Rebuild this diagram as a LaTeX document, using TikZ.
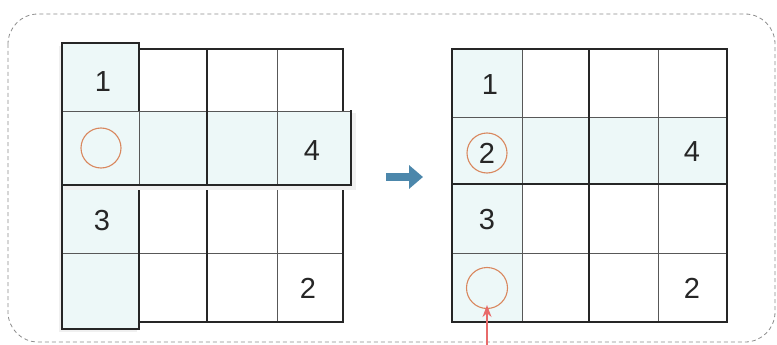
\documentclass[tikz,border=0pt]{standalone}
\usepackage{fontspec}
\setmainfont{Liberation Sans}
\usetikzlibrary{arrows.meta}
\definecolor{cellblue}{HTML}{EDF8F8}
\definecolor{gridgray}{HTML}{262626}
\definecolor{thingray}{HTML}{585858}
\definecolor{ringc}{HTML}{D9875E}
\definecolor{arrowblue}{HTML}{4C87AB}
\definecolor{arrowred}{HTML}{E86A6A}
\definecolor{framec}{HTML}{8C8C8C}
\begin{document}
\begin{tikzpicture}[x=1pt,y=-1pt,
  thickline/.style={draw=gridgray, line width=2.2pt},
  thinline/.style={draw=thingray, line width=1pt},
  num/.style={font=\fontsize{29}{29}\selectfont, text=black!85, inner sep=0pt},
  ring/.style={circle, draw=ringc, line width=1.1pt, minimum size=40pt, inner sep=0pt},
  shadowfill/.style={fill=black!6},
]
\useasboundingbox (0,0) rectangle (777,345);
% outer dashed frame
\draw[framec, line width=0.8pt, dash pattern=on 4pt off 3pt, rounded corners=30pt]
  (8,14) rectangle (775,342);

% ---------------- left picture ----------------
% main grid
\draw[thinline] (139,253) -- (343,253);
\draw[thinline] (277,49) -- (277,322);
\draw[thickline] (207,49) -- (207,322);
\draw[thickline] (139,49) rectangle (343,322);
% column strip
\fill[shadowfill] (59,46) rectangle (137,332);
\fill[cellblue] (62,43) rectangle (139,329);
\draw[thinline] (62,111) -- (139,111);
\draw[thinline] (62,253) -- (139,253);
\draw[thickline] (62,43) rectangle (139,329);
% row strip
\fill[shadowfill] (64,185) rectangle (354,190);
\fill[shadowfill] (351,113) rectangle (356,190);
\fill[cellblue] (62,111) rectangle (351,185);
\draw[thinline] (62,111) -- (351,111);
\draw[thinline] (139,111) -- (139,185);
\draw[thinline] (277,111) -- (277,185);
\draw[draw=gridgray, line width=1.6pt] (207,111) -- (207,185);
\draw[thickline] (62,111) -- (62,185);
\draw[thickline] (351,110) -- (351,185) -- (61,185);

\node[num] (l1) at (103,82) {1};
\node[ring] (lring) at (101,148) {};
\node[num] (l4) at (312,151) {4};
\node[num] (l3) at (102,221) {3};
\node[num] (l2) at (308,288) {2};

% ---------------- arrow ----------------
\coordinate (bstart) at (386,177);
\coordinate (bend) at (423,177);
\draw[arrowblue, line width=8pt, -{Triangle[length=14pt, width=23pt]}] (bstart) -- (bend);

% ---------------- right picture ----------------
\fill[cellblue] (452,49) rectangle (522,322);
\fill[cellblue] (452,117) rectangle (727,184);
\draw[thinline] (522,49) -- (522,322);
\draw[thinline] (658,49) -- (658,322);
\draw[thinline] (452,117) -- (727,117);
\draw[thinline] (452,253) -- (727,253);
\draw[thickline] (589,49) -- (589,322);
\draw[thickline] (452,184) -- (727,184);
\draw[thickline] (452,49) rectangle (727,322);

\node[num] (r1) at (490,85) {1};
\node[ring] (rring) at (487,153) {};
\node[num] (r2a) at (487,153) {2};
\node[num] (r4) at (692,152) {4};
\node[num] (r3) at (487,220) {3};
\node[ring, minimum size=41pt] (rempty) at (487,288) {};
\node[num] (r2b) at (692,288) {2};

\coordinate (redstart) at (487,345);
\draw[arrowred, line width=1.3pt, -{Stealth[length=12pt, width=9pt]}] (redstart) -- ([yshift=4pt]rempty.south);
\end{tikzpicture}
\end{document}
